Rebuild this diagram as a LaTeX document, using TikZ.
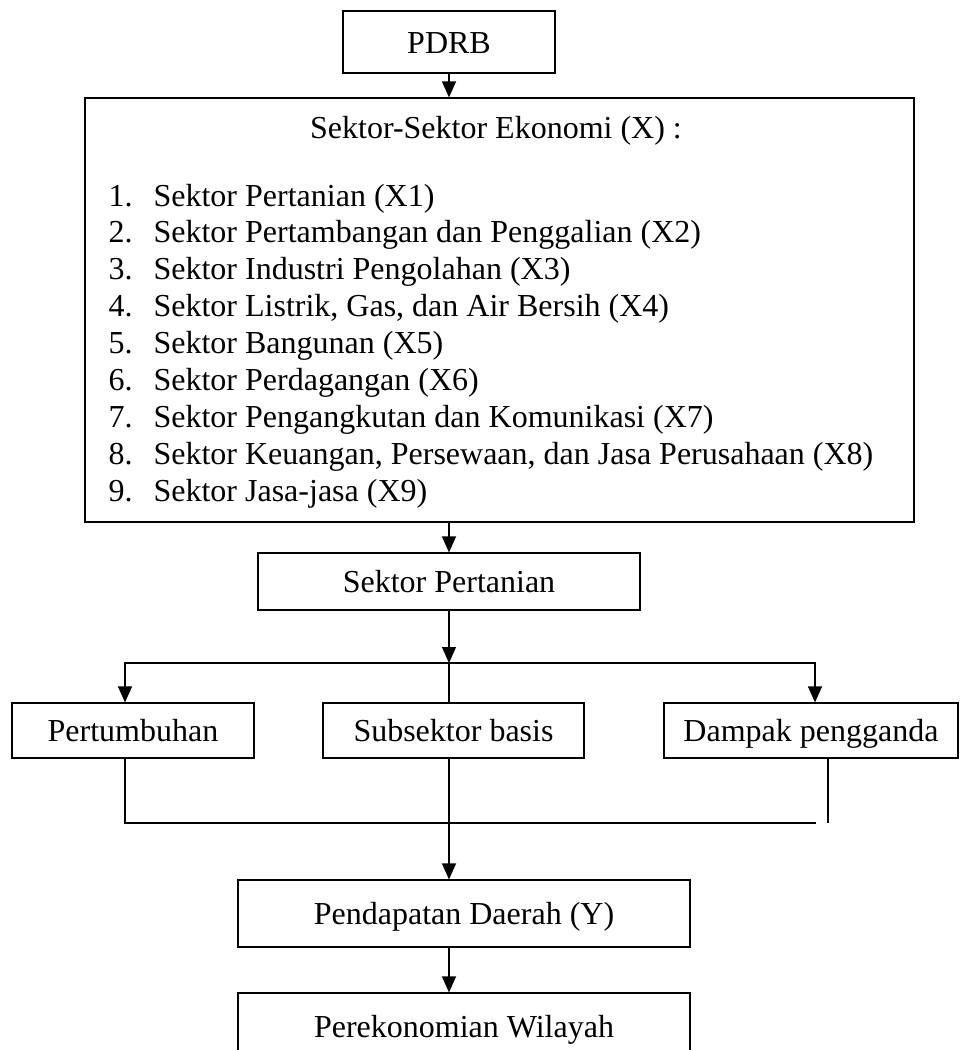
\documentclass[tikz,border=0pt]{standalone}
\usepackage{fontspec}
\setmainfont{Liberation Serif}
\usetikzlibrary{arrows.meta}
\tikzset{
  kotak/.style={draw, inner sep=0pt, text height=12pt, text depth=1pt},
  panah/.style={-{Triangle[length=8pt, width=7pt]}},
}

\begin{document}
\begin{tikzpicture}[x=0.5pt, y=-0.5pt, line width=0.6pt, font=\fontsize{16}{18.45}\selectfont]
        \useasboundingbox (0,0) rectangle (960,1050);
        % Boxes
        \node[kotak, minimum width=106pt, minimum height=31pt] (pdrb) at (449,42) {PDRB};
        \node[kotak, minimum width=414.5pt, minimum height=212pt] (sektor) at (499.5,310) {};
        \node[kotak, minimum width=191pt, minimum height=28.5pt] (pertanian) at (449,581.5) {Sektor Pertanian};
        \node[kotak, minimum width=121pt, minimum height=27.5pt] (tumbuh) at (133,730.5) {Pertumbuhan};
        \node[kotak, minimum width=130.5pt, minimum height=27.5pt] (basis) at (453.5,730.5) {Subsektor basis};
        \node[kotak, minimum width=147pt, minimum height=27.5pt] (ganda) at (811,730.5) {Dampak pengganda};
        \node[kotak, minimum width=226pt, minimum height=33.5pt] (pendapatan) at (464,913.5) {Pendapatan Daerah (Y)};
        \node[kotak, minimum width=226pt, minimum height=33pt] (wilayah) at (464,1026) {Perekonomian Wilayah};
        % Text inside the big box
        \node[anchor=base] (judul) at (496,138) {Sektor-Sektor Ekonomi (X) :};
        \foreach \i/\teks in {1/{Sektor Pertanian (X1)},
                              2/{Sektor Pertambangan dan Penggalian (X2)},
                              3/{Sektor Industri Pengolahan (X3)},
                              4/{Sektor Listrik, Gas, dan Air Bersih (X4)},
                              5/{Sektor Bangunan (X5)},
                              6/{Sektor Perdagangan (X6)},
                              7/{Sektor Pengangkutan dan Komunikasi (X7)},
                              8/{Sektor Keuangan, Persewaan, dan Jasa Perusahaan (X8)},
                              9/{Sektor Jasa-jasa (X9)}}
            \node[anchor=base west, inner sep=0pt] (item\i) at (108,{206+(\i-1)*36.9}) {\makebox[22.5pt][l]{\i.}\teks};
        % Arrows
        \coordinate (cabang) at (449,663);
        \coordinate (ujung) at (816,823);
        \draw[panah] (pdrb.south) -- (pdrb.south |- sektor.north);
        \draw[panah] (pertanian.north |- sektor.south) -- (pertanian.north);
        \draw[panah] (pertanian.south) -- (cabang);
        \draw (cabang) -- (cabang |- basis.north);
        \draw[panah] (cabang) -| ([xshift=-4pt]tumbuh.north);
        \draw[panah] (cabang) -| ([xshift=2pt]ganda.north);
        % Lines joining below
        \draw ([xshift=-4pt]tumbuh.south) |- (ujung);
        \draw ([xshift=8.5pt]ganda.south) -- ([xshift=8.5pt]ganda.south |- ujung);
        \draw[panah] (cabang |- basis.south) -- (cabang |- pendapatan.north);
        \draw[panah] (cabang |- pendapatan.south) -- (cabang |- wilayah.north);
    \end{tikzpicture}
\end{document}
